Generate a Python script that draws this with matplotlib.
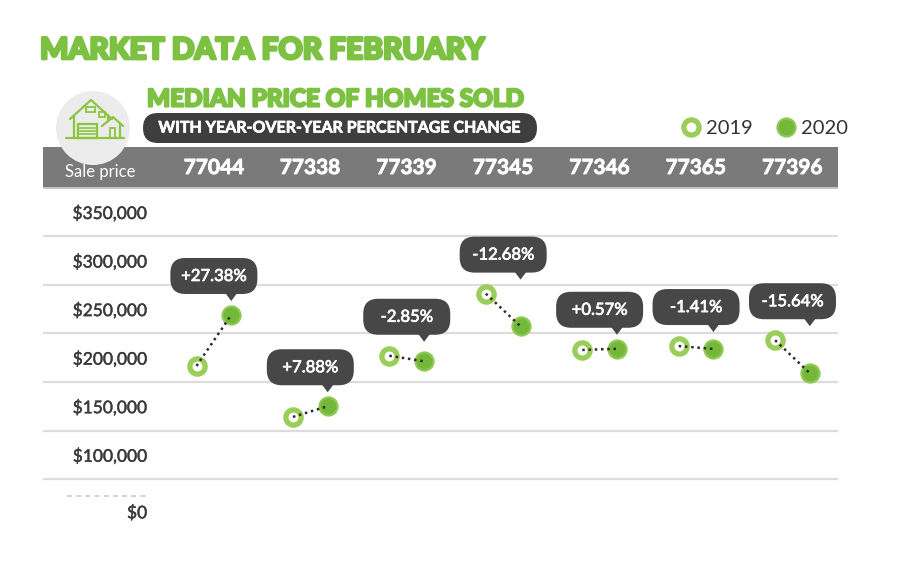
import matplotlib

matplotlib.use("Agg")
import matplotlib.patheffects as pe
import matplotlib.pyplot as plt
import matplotlib.transforms as mtransforms
from matplotlib.lines import Line2D
from matplotlib.patches import Circle, FancyBboxPatch, Polygon, Rectangle

zip_codes = ["77044", "77338", "77339", "77345", "77346", "77365", "77396"]
price_2019 = [191500, 139000, 202000, 266000, 208000, 212000, 218000]
price_2020 = [244000, 150000, 196300, 232300, 209200, 209000, 184000]
pct_change = ["+27.38%", "+7.88%", "-2.85%", "-12.68%", "+0.57%", "-1.41%", "-15.64%"]
tick_values = [100000, 150000, 200000, 250000, 300000, 350000]
tick_labels = ["$100,000", "$150,000", "$200,000", "$250,000", "$300,000", "$350,000"]

GREEN = "#7cc142"
RING = "#9bcd5a"
FILL = "#74b83a"
DARK = "#474747"
TEXT = "#3a3a3a"

plt.rcParams["font.family"] = ["Lato", "DejaVu Sans"]


def heavy(color, w=1.4):
    # thicken glyphs a bit, the original uses a very heavy face
    return [pe.withStroke(linewidth=w, foreground=color)]


fig = plt.figure(figsize=(9, 5.64), dpi=100, facecolor="white")

# background layer in pixel coordinates (titles, header bar, icon)
bg = fig.add_axes([0, 0, 1, 1], zorder=0)
bg.set_xlim(0, 900)
bg.set_ylim(564, 0)
bg.axis("off")

ax = fig.add_axes([43 / 900, 1 - 535 / 564, 795 / 900, 348 / 564], zorder=1)
ax.patch.set_alpha(0)
ax.set_xlim(-1.772, 6.472)
ax.set_ylim(17400, 375800)
for s in ax.spines.values():
    s.set_visible(False)
ax.set_xticks([])
ax.set_yticks(tick_values)
ax.set_yticklabels(tick_labels)
ax.tick_params(axis="y", length=0, pad=-74.7, labelsize=12.5, labelcolor=TEXT)
for t in ax.get_yticklabels():
    t.set_path_effects(heavy(TEXT, 0.3))

# gridlines sit between the labels
for v in tick_values:
    ax.axhline(v - 25000, color="#dcdcdc", lw=1.6, zorder=0)

# broken axis down to $0
ax.plot([0.03, 0.131], [57600, 57600], transform=ax.get_yaxis_transform(),
        color="#c8c8c8", lw=1.2, ls=(0, (3, 2.5)), clip_on=False)
ax.text(0.131, 40000, "$0", transform=ax.get_yaxis_transform(), ha="right",
        va="center", fontsize=12.5, color=TEXT, path_effects=heavy(TEXT, 0.3))

# titles
bg.text(40, 50, "MARKET DATA FOR FEBRUARY", fontsize=21.5, weight="black",
        color=GREEN, ha="left", va="center", path_effects=heavy(GREEN, 2.0))
bg.text(147, 99, "MEDIAN PRICE OF HOMES SOLD", fontsize=17.5, weight="black",
        color=GREEN, ha="left", va="center", path_effects=heavy(GREEN, 1.6))
bg.add_patch(FancyBboxPatch((143, 113), 394, 30, boxstyle="round,pad=0,rounding_size=15",
                            fc="#3e3e3e", ec="none"))
bg.text(339, 128.5, "WITH YEAR-OVER-YEAR PERCENTAGE CHANGE", fontsize=11.5,
        weight="bold", color="white", ha="center", va="center",
        path_effects=heavy("white", 0.5))

# header bar
bg.add_patch(Rectangle((43, 147), 795, 40, fc="#7a7a7a", ec="none"))
bg.add_patch(Rectangle((43, 187), 795, 2, fc="#c4c4c4", ec="none"))
bg.text(100, 172, "Sale price", fontsize=12, color="white", ha="center", va="center")
for i, z in enumerate(zip_codes):
    ax.text(i, 1.0546, z, transform=ax.get_xaxis_transform(), ha="center",
            va="center", color="white", weight="bold", fontsize=15, clip_on=False,
            path_effects=heavy("white", 0.6))

# house icon
bg.add_patch(Circle((93, 128), 37, fc="#ececec", ec="none", zorder=3))
ic = dict(color="#8cc63f", lw=1.6, zorder=4, solid_capstyle="round")
bg.plot([70, 91, 112], [119, 100, 119], **ic)
bg.plot([74, 74], [116, 138], **ic)
bg.plot([108, 108], [116, 121], **ic)
bg.plot([102, 113, 123], [126, 117, 126], **ic)
bg.plot([120, 120], [124, 138], **ic)
bg.plot([66, 124], [138, 138], **ic)
bg.add_patch(Rectangle((78, 124), 19, 14, fill=False, ec="#8cc63f", lw=1.6, zorder=4))
for yy in (128, 131, 134):
    bg.plot([80, 95], [yy, yy], color="#8cc63f", lw=1.2, zorder=4)
bg.add_patch(Rectangle((86, 107), 9, 5, fill=False, ec="#8cc63f", lw=1.3, zorder=4))
bg.add_patch(Rectangle((99, 112), 6, 5, fill=False, ec="#8cc63f", lw=1.3, zorder=4))
bg.add_patch(Rectangle((110, 128), 5, 10, fill=False, ec="#8cc63f", lw=1.3, zorder=4))

# data
off = 0.18
x19 = [i - off for i in range(len(zip_codes))]
x20 = [i + off for i in range(len(zip_codes))]
ring_style = dict(marker="o", ls="none", ms=11, mfc="white", mec=RING, mew=3.8)
dot_style = dict(marker="o", ls="none", ms=13, mfc=FILL, mec="#8ec954", mew=1.6)
ax.plot(x19, price_2019, zorder=3, **ring_style)
ax.plot(x20, price_2020, zorder=3, **dot_style)
for a, b, p, q in zip(x19, x20, price_2019, price_2020):
    ax.plot([a, b], [p, q], color="#2e2e2e", lw=1.8, ls=(0, (1, 1.5)), zorder=4)

# callouts
px = mtransforms.Affine2D().scale(0.01) + fig.dpi_scale_trans
for i, label in enumerate(pct_change):
    top = max(price_2019[i], price_2020[i])
    tr = px + mtransforms.ScaledTranslation(i, top, ax.transData)
    ax.add_patch(FancyBboxPatch((-43.5, 21), 87, 36, boxstyle="round,pad=0,rounding_size=15",
                                transform=tr, fc=DARK, ec="none", zorder=5, clip_on=False))
    tr2 = px + mtransforms.ScaledTranslation(x20[i], top, ax.transData)
    ax.add_patch(Polygon([(-6, 22), (6, 22), (0, 14)], closed=True, transform=tr2,
                         fc=DARK, ec="none", zorder=5, clip_on=False))
    ax.text(0, 39, label, transform=tr, ha="center", va="center", color="white",
            fontsize=12, zorder=6, clip_on=False, path_effects=heavy("white", 0.5))

# legend
handles = [Line2D([], [], label="2019", **ring_style), Line2D([], [], label="2020", **dot_style)]
fig.legend(handles=handles, loc="center right", bbox_to_anchor=(866 / 900, 1 - 128 / 564),
           ncol=2, frameon=False, fontsize=14.5, handletextpad=0.25, columnspacing=1.15,
           handlelength=1.0, labelcolor="#333333")

fig.savefig("out.png", dpi=100)
